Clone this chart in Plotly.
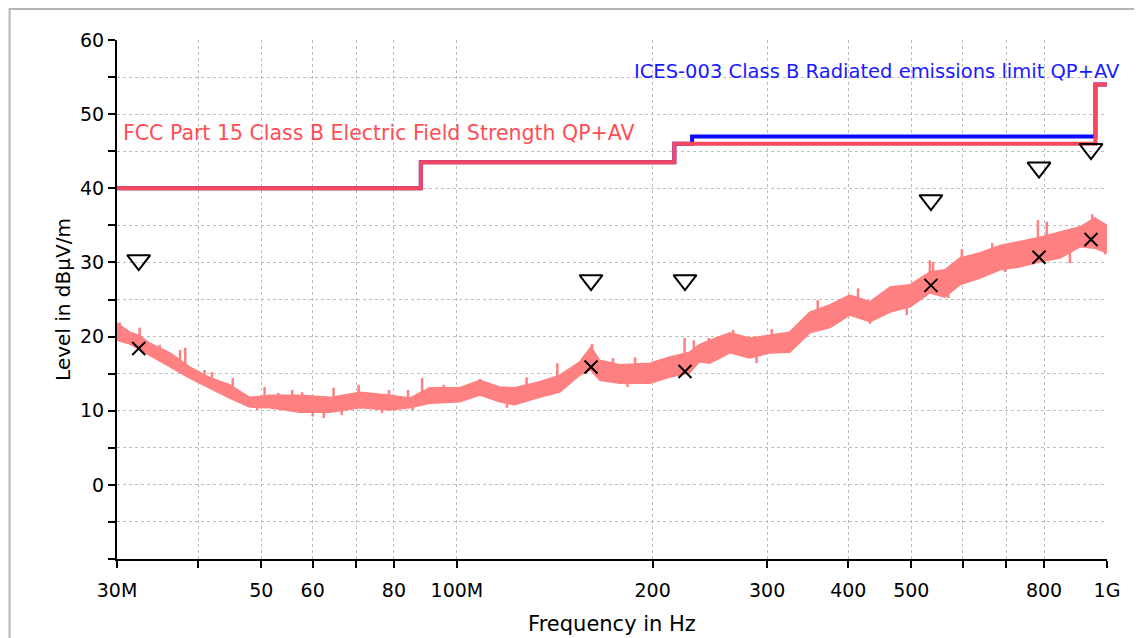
import math
import plotly.graph_objects as go

# ---------------- data (frequencies in MHz, levels in dBuV/m) ----------------
spec_freq = [30, 31.4, 32.4, 33.7, 36.2, 38.8, 41.6, 44.7, 48.0, 51.5, 57.3, 63.8,
             71.0, 78.8, 84.6, 90.8, 101, 108.5, 116.3, 122.7, 134, 144, 154.5,
             160.8, 165.8, 178, 198, 212, 228, 236, 245, 263, 282, 303, 325, 349,
             375, 402, 432, 464, 498, 534, 563, 594, 638, 685, 735, 789, 847, 909,
             958, 1000]
spec_low = [19.5, 19.0, 18.3, 17.4, 15.9, 14.4, 13.1, 11.7, 10.5, 10.4, 9.8, 9.8,
            10.4, 10.1, 10.4, 11.0, 11.2, 12.1, 11.2, 10.8, 11.8, 12.5, 14.8,
            15.5, 14.1, 13.7, 13.7, 14.5, 15.1, 16.6, 16.4, 17.8, 17.1, 17.8, 17.9,
            20.5, 21.2, 22.9, 22.0, 23.3, 24.0, 25.9, 25.3, 27.0, 27.9, 29.0, 29.4,
            30.1, 30.6, 32.1, 31.9, 31.3]
spec_high = [21.8, 20.6, 20.2, 19.1, 17.8, 15.9, 14.5, 13.5, 11.8, 12.1, 12.1, 11.8,
             12.5, 12.1, 11.7, 13.1, 13.1, 14.1, 13.2, 13.1, 13.9, 14.8, 16.6,
             18.6, 16.8, 16.2, 16.4, 17.2, 17.9, 18.9, 19.5, 20.5, 19.8, 20.2, 20.6,
             23.3, 24.3, 25.6, 24.7, 26.7, 27.0, 28.7, 29.0, 30.6, 31.3, 32.3, 32.8,
             33.4, 34.1, 34.8, 36.0, 35.0]

# narrow noise spikes: frequency, level inside the band, tip level
spike_freq = [30.3, 32.5, 34.9, 37.5, 38.2, 40.9, 42.0, 45.2, 50.6, 53.1, 55.8, 57.8,
              64.6, 70.6, 78.6, 84.1, 88.4, 95.4, 108.5, 128, 142.7, 161.4, 173.8,
              188, 224, 231.5, 244, 266, 305, 337, 359, 398, 414, 459, 534, 540,
              598, 666, 783, 808, 949,
              49.3, 60.0, 62.4, 66.5, 76.7, 85.5, 119.4, 183, 289, 432, 492, 570,
              697, 877, 993]
spike_base = [20.5, 19.5, 17.8, 16.5, 16.0, 14.5, 14.0, 12.8, 11.2, 11.2, 11.0, 11.0,
              10.8, 11.5, 11.0, 11.0, 12.0, 12.2, 13.0, 12.5, 13.5, 17.0, 15.5,
              15.0, 16.5, 17.0, 18.0, 19.0, 19.0, 19.5, 22.0, 24.0, 24.5, 25.0, 27.3, 27.5,
              29.0, 30.5, 32.0, 32.3, 34.0,
              11.5, 11.0, 11.0, 11.0, 11.2, 11.0, 12.2, 15.0, 18.5, 23.3, 25.5, 27.2,
              30.5, 33.0, 33.0]
spike_tip = [21.9, 21.2, 18.9, 18.2, 18.5, 15.5, 15.2, 14.4, 13.2, 12.4, 12.8, 12.5,
             13.1, 13.5, 12.8, 12.8, 14.4, 13.5, 14.3, 14.5, 16.4, 19.0, 17.1,
             17.2, 19.8, 19.5, 19.8, 20.9, 21.0, 21.3, 24.9, 24.3, 26.5, 26.3, 30.3, 30.1,
             31.8, 32.6, 35.7, 35.5, 36.5,
             10.1, 9.2, 9.0, 9.4, 9.7, 10.1, 10.4, 13.2, 16.4, 21.7, 22.9, 25.2,
             28.7, 29.9, 31.1]

fcc_freq = [30, 88, 216, 960, 1000]
fcc_level = [40, 43.5, 46, 54, 54]
ices_freq = [30, 88, 216, 230, 960, 1000]
ices_level = [40, 43.5, 46, 47, 54, 54]

peak_freq = [32.4, 160.8, 224.3, 536, 786, 945]
peak_level = [30.3, 27.6, 27.6, 38.4, 42.8, 45.3]
qp_freq = [32.4, 160.8, 224.3, 536, 786, 945]
qp_level = [18.4, 15.9, 15.3, 26.9, 30.7, 33.1]

x_tickvals = [30, 40, 50, 60, 70, 80, 100, 200, 300, 400, 500, 600, 700, 800, 1000]
x_ticktext = ["30M", "", "50", "60", "", "80", "100M", "200", "300", "400", "500",
              "", "", "800", "1G"]
y_tickvals = [-10, -5, 0, 5, 10, 15, 20, 25, 30, 35, 40, 45, 50, 55, 60]
y_ticktext = ["", "", "0", "", "10", "", "20", "", "30", "", "40", "", "50", "", "60"]

FONT = "DejaVu Sans"
SPEC_COLOR = "#ff8080"

fig = go.Figure()

# spectrum band
fig.add_trace(go.Scatter(
    x=spec_freq + spec_freq[::-1],
    y=spec_high + spec_low[::-1],
    fill="toself", fillcolor=SPEC_COLOR, mode="lines",
    line=dict(color=SPEC_COLOR, width=1.5), hoverinfo="skip", showlegend=False))

sx, sy = [], []
for f, b, t in zip(spike_freq, spike_base, spike_tip):
    sx += [f, f, None]
    sy += [b, t, None]
fig.add_trace(go.Scatter(x=sx, y=sy, mode="lines",
                         line=dict(color=SPEC_COLOR, width=2.5), showlegend=False))

# limit lines
fig.add_trace(go.Scatter(x=ices_freq, y=ices_level, mode="lines",
                         line=dict(color="#0a0aff", width=4, shape="hv"),
                         showlegend=False))
fig.add_trace(go.Scatter(x=fcc_freq, y=fcc_level, mode="lines",
                         line=dict(color="#f7485c", width=4, shape="hv"),
                         showlegend=False))

# markers
fig.add_trace(go.Scatter(x=peak_freq, y=peak_level, mode="markers",
                         marker=dict(symbol="triangle-down-open", size=20,
                                     color="black", line=dict(width=2, color="black")),
                         cliponaxis=False, showlegend=False))
fig.add_trace(go.Scatter(x=qp_freq, y=qp_level, mode="markers",
                         marker=dict(symbol="x-thin", size=13,
                                     color="black", line=dict(width=2, color="black")),
                         cliponaxis=False, showlegend=False))

fig.add_annotation(text="FCC Part 15 Class B Electric Field Strength QP+AV",
                   xref="paper", yref="y", x=0.004, y=47.45,
                   xanchor="left", yanchor="middle", showarrow=False,
                   font=dict(family=FONT, size=20.5, color="#ff4d55"))
fig.add_annotation(text="ICES-003 Class B Radiated emissions limit QP+AV",
                   xref="paper", yref="y", x=0.52, y=55.7,
                   xanchor="left", yanchor="middle", showarrow=False,
                   font=dict(family=FONT, size=19.5, color="#1a1aff"))

# window frame
fig.add_shape(type="rect", xref="paper", yref="paper",
              x0=-0.1085, x1=1.2, y0=-0.3, y1=1.0597,
              line=dict(color="#b4b4b4", width=2), layer="below")

axis_common = dict(showgrid=True, gridcolor="#bdbdbd", griddash="dot", gridwidth=1,
                   ticks="outside", ticklen=7, tickwidth=2, tickcolor="black",
                   showline=True, linecolor="black", linewidth=2, zeroline=False,
                   automargin=False,
                   tickfont=dict(family=FONT, size=19, color="black"))

fig.update_layout(
    width=1134, height=630,
    margin=dict(l=109, r=35, t=32, b=79),
    paper_bgcolor="white", plot_bgcolor="white",
    xaxis=dict(type="log", range=[math.log10(30), math.log10(1000)],
               tickmode="array", tickvals=x_tickvals, ticktext=x_ticktext,
               ticklabelstandoff=6,
               title=dict(text="Frequency in Hz", standoff=17,
                          font=dict(family=FONT, size=21, color="black")),
               **axis_common),
    yaxis=dict(range=[-10, 60], tickmode="array", tickvals=y_tickvals,
               ticktext=y_ticktext,
               title=dict(text="Level in dBµV/m", standoff=4,
                          font=dict(family=FONT, size=20, color="black")),
               **axis_common),
)

fig.write_html("out.html")
